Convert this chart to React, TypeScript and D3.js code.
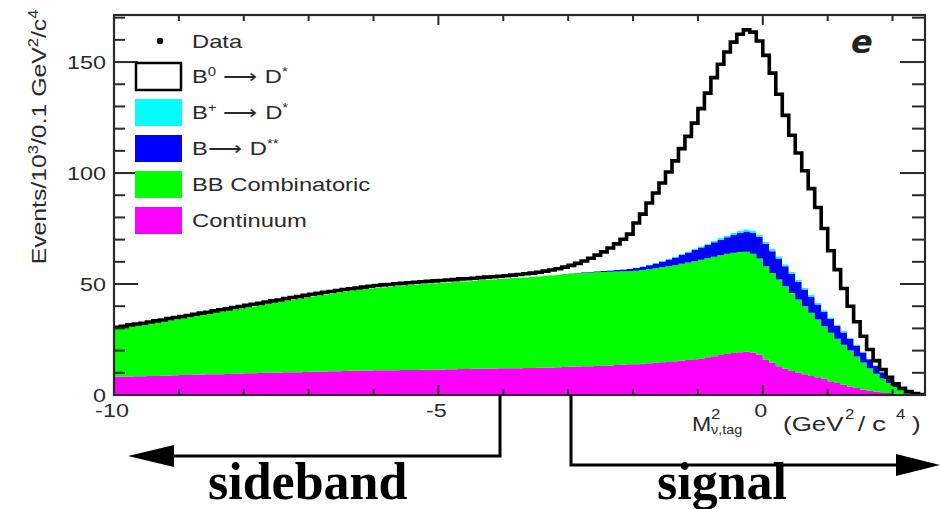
import React, { useEffect } from "react";
import * as d3 from "d3";

// Histogram binning of the missing-mass-squared axis
const binLow = -10;
const binWidth = 0.1;

// Events / 10^3 per 0.1 GeV^2/c^4 bin, one entry per bin from -10 to 2.5
const continuum = [
  8.2, 8.3, 8.3, 8.4, 8.5, 8.6, 8.6, 8.7, 8.8, 8.9,
  9.0, 9.0, 9.1, 9.2, 9.3, 9.3, 9.4, 9.5, 9.6, 9.7,
  9.8, 9.8, 9.9, 10.0, 10.0, 10.1, 10.2, 10.3, 10.3, 10.4,
  10.5, 10.5, 10.6, 10.7, 10.7, 10.8, 10.9, 10.9, 11.0, 11.0,
  11.1, 11.1, 11.2, 11.2, 11.3, 11.3, 11.3, 11.4, 11.4, 11.5,
  11.5, 11.6, 11.6, 11.7, 11.7, 11.8, 11.8, 11.9, 11.9, 12.0,
  12.0, 12.1, 12.1, 12.2, 12.2, 12.3, 12.4, 12.4, 12.5, 12.6,
  12.7, 12.8, 12.9, 13.0, 13.1, 13.2, 13.3, 13.5, 13.6, 13.8,
  13.9, 14.1, 14.3, 14.5, 14.7, 14.9, 15.2, 15.5, 15.8, 16.1,
  16.5, 17.0, 17.5, 18.0, 18.5, 18.9, 19.3, 19.5, 19.2, 18.2,
  16.0, 14.5, 13.0, 11.8, 10.8, 10.0, 9.3, 8.6, 8.0, 7.3,
  6.2, 5.4, 4.6, 3.8, 3.1, 2.5, 2.0, 1.6, 1.2, 0.9,
  0.6, 0.4, 0.2, 0.1, 0.05,
];

const bbCombinatoric = [
  21.6, 21.9, 22.6, 22.9, 23.1, 23.5, 24.1, 24.4, 24.8, 25.2,
  25.5, 26.0, 26.5, 26.9, 27.2, 27.8, 28.2, 28.5, 29.0, 29.4,
  29.7, 30.2, 30.5, 31.0, 31.5, 31.8, 32.3, 32.7, 33.1, 33.6,
  34.0, 34.4, 34.8, 35.0, 35.5, 35.8, 36.1, 36.4, 36.7, 37.1,
  37.2, 37.5, 37.6, 37.9, 38.0, 38.3, 38.5, 38.6, 38.8, 38.9,
  39.0, 39.1, 39.3, 39.5, 39.6, 39.7, 40.0, 40.1, 40.3, 40.4,
  40.5, 40.6, 40.8, 40.9, 41.1, 41.2, 41.4, 41.6, 41.7, 41.9,
  42.0, 42.1, 42.1, 42.2, 42.2, 42.2, 42.2, 42.1, 42.1, 42.0,
  42.1, 42.2, 42.4, 42.6, 42.8, 43.1, 43.3, 43.6, 43.9, 44.2,
  44.4, 44.6, 44.8, 45.0, 45.1, 45.2, 45.1, 45.0, 44.4, 43.3,
  42.0, 40.5, 39.0, 37.2, 35.2, 33.0, 30.7, 28.4, 26.0, 23.7,
  21.8, 19.9, 18.0, 16.2, 14.2, 12.1, 10.0, 8.0, 6.2, 4.5,
  3.0, 1.8, 0.9, 0.4, 0.15,
];

const bToDstarstar = [
  0, 0, 0, 0, 0, 0, 0, 0, 0, 0,
  0, 0, 0, 0, 0, 0, 0, 0, 0, 0,
  0, 0, 0, 0, 0, 0, 0, 0, 0, 0,
  0, 0, 0, 0, 0, 0, 0, 0, 0, 0,
  0, 0, 0, 0, 0, 0, 0, 0, 0, 0,
  0, 0, 0, 0, 0, 0, 0, 0, 0, 0,
  0, 0, 0, 0, 0, 0, 0, 0, 0, 0,
  0.2, 0.2, 0.3, 0.3, 0.4, 0.5, 0.6, 0.7, 0.8, 1.0,
  1.2, 1.5, 1.8, 2.2, 2.6, 3.0, 3.5, 4.0, 4.5, 5.0,
  5.5, 6.0, 6.5, 7.0, 7.5, 8.0, 8.6, 9.2, 9.5, 9.8,
  10.0, 9.8, 9.5, 9.0, 8.5, 8.0, 7.5, 7.2, 6.8, 6.5,
  6.2, 5.9, 5.6, 5.3, 5.0, 4.6, 4.1, 3.5, 2.9, 2.2,
  1.3, 0.7, 0.3, 0.1, 0.0,
];

const bPlusToDstar = [
  0, 0, 0, 0, 0, 0, 0, 0, 0, 0,
  0, 0, 0, 0, 0, 0, 0, 0, 0, 0,
  0, 0, 0, 0, 0, 0, 0, 0, 0, 0,
  0, 0, 0, 0, 0, 0, 0, 0, 0, 0,
  0, 0, 0, 0, 0, 0, 0, 0, 0, 0,
  0, 0, 0, 0, 0, 0, 0, 0, 0, 0,
  0, 0, 0, 0, 0, 0, 0, 0, 0, 0,
  0, 0, 0, 0, 0.1, 0.1, 0.1, 0.1, 0.1, 0.2,
  0.2, 0.2, 0.3, 0.3, 0.3, 0.4, 0.4, 0.5, 0.5, 0.6,
  0.6, 0.7, 0.7, 0.8, 0.8, 0.9, 0.9, 1.0, 1.0, 1.0,
  1.0, 1.0, 1.0, 0.9, 0.9, 0.9, 0.8, 0.8, 0.8, 0.7,
  0.7, 0.6, 0.6, 0.5, 0.5, 0.4, 0.4, 0.3, 0.3, 0.2,
  0.1, 0.1, 0, 0, 0,
];

const b0ToDstar = [
  0.7, 0.7, 0.7, 0.7, 0.7, 0.8, 0.7, 0.7, 0.8, 0.8,
  0.8, 0.8, 0.8, 0.8, 0.8, 0.8, 0.8, 0.8, 0.8, 0.8,
  0.9, 0.9, 0.9, 0.9, 0.9, 0.9, 0.9, 0.9, 0.9, 0.9,
  0.9, 0.9, 0.9, 0.9, 0.9, 0.9, 0.9, 0.9, 0.9, 0.9,
  1.0, 1.0, 1.0, 1.0, 1.0, 1.0, 1.0, 1.0, 1.0, 1.0,
  1.1, 1.1, 1.1, 1.1, 1.1, 1.1, 1.1, 1.1, 1.1, 1.1,
  1.2, 1.3, 1.4, 1.5, 1.6, 1.8, 2.0, 2.3, 2.7, 3.1,
  3.5, 4.2, 5.1, 6.1, 7.2, 8.5, 10.0, 11.7, 13.6, 15.5,
  20.1, 23.5, 27.7, 31.4, 35.1, 39.1, 43.1, 47.4, 51.8, 56.6,
  62.0, 67.7, 73.5, 78.2, 82.6, 86.0, 88.6, 89.8, 89.4, 87.2,
  84.0, 79.2, 73.0, 67.1, 61.6, 57.1, 52.7, 48.0, 42.9, 36.8,
  30.1, 24.7, 19.2, 14.2, 10.2, 6.9, 4.0, 2.1, 0.9, 0.2,
  0, 0, 0.1, 0, 0,
];

// Axis tick labels
const yTickLabels = [0, 50, 100, 150];
const xTickLabels = [-10, -5, 0];

const layerKeys = ["continuum", "bb", "dss", "bplus", "b0"];
const layerFill: Record<string, string> = {
  continuum: "#ff00ff",
  bb: "#00ff00",
  dss: "#0000ff",
  bplus: "#00ffff",
  b0: "#ffffff",
};

const FONT = "'Liberation Sans', Arial, Helvetica, sans-serif";
const SERIF = "'Liberation Serif', 'Times New Roman', serif";
const INK = "#2a2a2a";

// text drawn with a horizontal stretch about its anchor point
function SText({ x, y, sx = 1, size, anchor = "start", children, fill = INK, weight = "normal", family = FONT, rotate = 0 }: any) {
  return (
    <g transform={`translate(${x},${y}) rotate(${rotate}) scale(${sx},1)`}>
      <text fontFamily={family} fontSize={size} textAnchor={anchor} fill={fill} fontWeight={weight}>
        {children}
      </text>
    </g>
  );
}

export default function App() {
  useEffect(() => {
    document.body.style.margin = "0";
    document.body.style.overflow = "hidden";
  }, []);

  const x = d3.scaleLinear().domain([-10, 2.5]).range([114, 925]);
  const y = d3.scaleLinear().domain([0, 171.2]).range([395, 15]);
  const [x0, x1] = x.range();
  const [yb, yt] = y.range();

  const rows = continuum.map((_, i) => ({
    edge: binLow + i * binWidth,
    continuum: continuum[i],
    bb: bbCombinatoric[i],
    dss: bToDstarstar[i],
    bplus: bPlusToDstar[i],
    b0: b0ToDstar[i],
  }));
  // closing edge so the last bin gets its full width
  rows.push({ ...rows[rows.length - 1], edge: binLow + continuum.length * binWidth });

  const stacked = d3.stack<any>().keys(layerKeys)(rows);

  const area = d3
    .area<any>()
    .x((d) => x(d.data.edge))
    .y0((d) => y(d[0]))
    .y1((d) => y(d[1]))
    .curve(d3.curveStepAfter);

  const totalLine = d3
    .line<any>()
    .x((d) => x(d.data.edge))
    .y((d) => y(d[1]))
    .curve(d3.curveStepAfter);

  const yMinor = d3.range(0, 171, 10);
  const xMinor = d3.range(-10, 2.5, 1);

  const legend = [
    { fill: "#ffffff", stroke: "#000", label: <><tspan>B</tspan><tspan dy={-7} fontSize={12}>0</tspan><tspan dy={7}> ⟶ D</tspan><tspan dy={-7} fontSize={12}>*</tspan></> },
    { fill: "#00ffff", stroke: "none", label: <><tspan>B</tspan><tspan dy={-7} fontSize={12}>+</tspan><tspan dy={7}> ⟶ D</tspan><tspan dy={-7} fontSize={12}>*</tspan></> },
    { fill: "#0000ff", stroke: "none", label: <><tspan>B⟶ D</tspan><tspan dy={-7} fontSize={12}>**</tspan></> },
    { fill: "#00ff00", stroke: "none", label: <tspan>BB Combinatoric</tspan> },
    { fill: "#ff00ff", stroke: "none", label: <tspan>Continuum</tspan> },
  ];
  const legendY = [76, 112, 148, 184, 220];

  return (
    <svg width={940} height={509} style={{ position: "absolute", left: 0, top: 0, background: "#fff" }}>
      <defs>
        <clipPath id="plotClip">
          <rect x={x0} y={yt} width={x1 - x0} height={yb - yt} />
        </clipPath>
      </defs>

      {/* stacked histogram components */}
      <g clipPath="url(#plotClip)">
        {stacked.map((s) => (
          <path key={s.key} d={area(s) || ""} fill={layerFill[s.key]} stroke="none" />
        ))}
        <path d={totalLine(stacked[stacked.length - 1]) || ""} fill="none" stroke="#000" strokeWidth={3.6} strokeLinejoin="miter" />
      </g>

      {/* frame */}
      <rect x={x0} y={yt} width={x1 - x0} height={yb - yt} fill="none" stroke={INK} strokeWidth={2.2} />

      {/* y ticks, left and right */}
      {yMinor.map((v) => {
        const major = v % 50 === 0;
        return (
          <g key={"yt" + v} stroke={INK} strokeWidth={2}>
            <line x1={x0} x2={x0 + (major ? 24 : 11)} y1={y(v)} y2={y(v)} />
            <line x1={x1} x2={x1 - (major ? 25 : 13)} y1={y(v)} y2={y(v)} />
          </g>
        );
      })}
      {/* x ticks, top and bottom */}
      {xMinor.map((v) => {
        const major = v % 5 === 0;
        return (
          <g key={"xt" + v} stroke={INK} strokeWidth={2}>
            <line x1={x(v)} x2={x(v)} y1={yt} y2={yt + (major ? 10 : 6)} />
            <line x1={x(v)} x2={x(v)} y1={yb} y2={yb - (major ? 10 : 6)} />
          </g>
        );
      })}

      {/* tick labels */}
      {yTickLabels.map((v) => (
        <SText key={"yl" + v} x={106} y={y(v) + 6.5} sx={1.3} size={18} anchor="end">{v}</SText>
      ))}
      {xTickLabels.map((v) => (
        <SText key={"xl" + v} x={x(v) - 2} y={417} sx={1.3} size={18} anchor="middle">{v}</SText>
      ))}

      {/* axis titles */}
      <SText x={46} y={137} rotate={-90} sx={1.18} size={21} anchor="middle">
        <tspan>Events/10</tspan>
        <tspan dy={-8} fontSize={14}>3</tspan>
        <tspan dy={8}>/0.1 GeV</tspan>
        <tspan dy={-8} fontSize={14}>2</tspan>
        <tspan dy={8}>/c</tspan>
        <tspan dy={-8} fontSize={14}>4</tspan>
      </SText>

      <SText x={692} y={431} sx={1.1} size={21}>M</SText>
      <SText x={711} y={419} sx={1.2} size={14}>2</SText>
      <SText x={711} y={434} sx={1.15} size={12.5}>ν,tag</SText>
      <SText x={783} y={431} sx={1.3} size={20}>(GeV</SText>
      <SText x={845} y={419} sx={1.2} size={14}>2</SText>
      <SText x={858} y={431} sx={1.3} size={20}>/</SText>
      <SText x={872} y={431} sx={1.4} size={20}>c</SText>
      <SText x={896} y={419} sx={1.2} size={14}>4</SText>
      <SText x={912} y={431} sx={1.3} size={20}>)</SText>

      {/* panel tag */}
      <text x={851} y={53} fontFamily="'DejaVu Sans', sans-serif" fontSize={32} fontWeight="bold" fontStyle="italic" fill="#222">e</text>

      {/* legend */}
      <circle cx={160} cy={41} r={3.2} fill="#000" />
      <SText x={192} y={48} sx={1.25} size={19}>Data</SText>
      {legend.map((item, i) => (
        <g key={"lg" + i}>
          <rect
            x={item.stroke === "none" ? 135 : 136}
            y={legendY[i] - 13}
            width={item.stroke === "none" ? 47 : 45}
            height={27}
            fill={item.fill}
            stroke={item.stroke}
            strokeWidth={2.5}
          />
          <SText x={192} y={legendY[i] + 7} sx={1.25} size={19}>{item.label}</SText>
        </g>
      ))}

      {/* sideband / signal region arrows */}
      <path d="M500,395 V456 H170" fill="none" stroke="#000" strokeWidth={3} />
      <path d="M128,456 L174,445 L174,467 Z" fill="#000" />
      <path d="M571,395 V465 H900" fill="none" stroke="#000" strokeWidth={3} />
      <path d="M940,465 L896,454 L896,476 Z" fill="#000" />

      <text x={208} y={499} fontFamily={SERIF} fontWeight="bold" fontSize={52} fill="#000">sideband</text>
      <text x={657} y={499} fontFamily={SERIF} fontWeight="bold" fontSize={52} fill="#000">signal</text>
    </svg>
  );
}
